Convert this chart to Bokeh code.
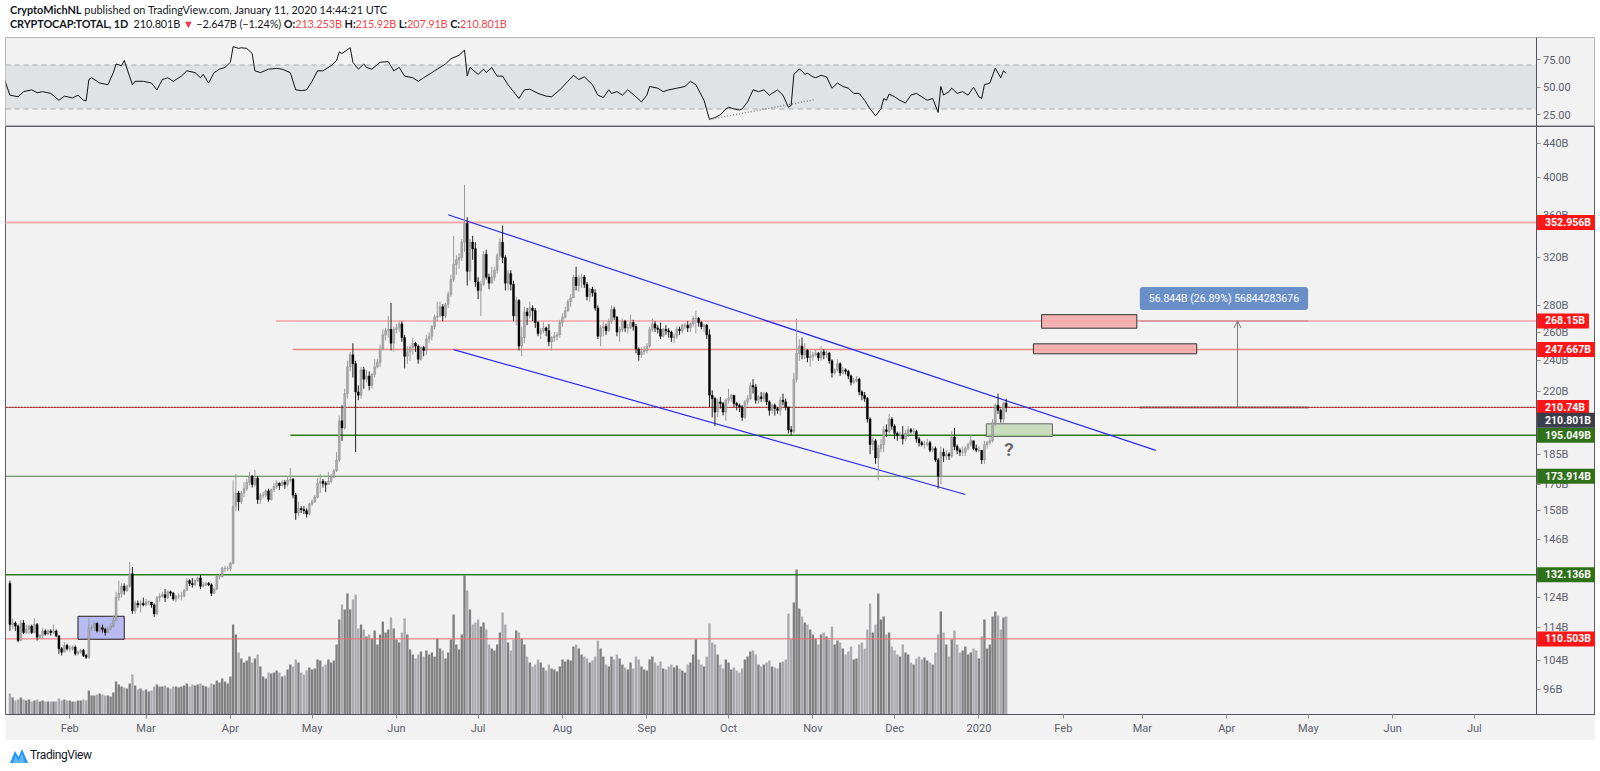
import pandas as pd
from bokeh.plotting import figure
from bokeh.layouts import column, row
from bokeh.models import (Range1d, FixedTicker, CustomJSTickFormatter, PrintfTickFormatter,
                          Label, BoxAnnotation, Arrow, OpenHead, Div, ColumnDataSource,
                          LinearScale, Spacer)
from bokeh.embed import file_html
from bokeh.resources import INLINE
from bokeh.core.properties import value

# ---------------------------------------------------------------- data
first_day = "2019-01-10"
first_open = 129.0

close = [
    115, 115.5, 114.5, 110, 115.5, 112.5, 113.5, 114.5, 112.5, 115, 111, 111.5, 113, 112, 113, 112.5, 113, 111.5, 107.5, 106.5, 108.5, 107.5,
    107.5, 108, 106, 106.5, 107, 105.5, 105, 114, 114, 115.5, 113, 114, 113.5, 112.5, 113.5, 114.5, 116.5, 124, 125.5, 128, 126.5, 128, 132.5, 119.5, 122, 121.5, 122, 121.5,
    122.5, 122.5, 121.5, 118.5, 124, 124.5, 125, 124, 126, 125.5, 123.5, 124.5, 124.5, 124.5, 126.5, 130, 129, 128.5, 130, 131, 128, 128.5, 129, 128.5, 125.5, 127, 131.5, 131.5, 134.5, 134.5, 134.5,
    136.5, 160, 166, 162, 166, 168, 171, 174, 170, 173, 163, 165, 165, 167, 163, 167.5, 169, 170.5, 169.5, 171, 170, 172, 172.5, 165, 157, 159, 158.5, 158, 156.5, 161,
    162, 164, 170.5, 171.5, 170.5, 170, 171.5, 173.5, 176.5, 182, 203, 199, 219, 236, 244, 238, 220, 218, 234, 228, 230, 224, 231, 236, 239, 248, 258, 261, 262, 252, 262,
    263, 266, 256, 243, 246, 249, 252, 250, 241, 249, 247, 255, 257, 264, 271, 272, 279, 272, 281, 289, 301, 314, 318, 320, 334, 352, 308, 334, 328, 299,
    292, 297, 323, 303, 298, 303, 309, 322, 334, 320, 298, 306, 297, 272, 284, 250, 256, 275, 272, 278, 276, 267, 259, 261, 263, 261, 253, 256, 257, 258, 267,
    271, 276, 283, 286, 303, 296, 302, 303, 297, 287, 293, 290, 278, 257, 263, 264, 261, 268, 277, 271, 260, 262, 268, 263, 263, 267, 264, 248, 244, 246, 247,
    250, 262, 266, 263, 262, 257, 262, 261, 260, 256, 257, 262, 261, 265, 265, 263, 266, 270, 270, 267, 264, 265, 258, 218, 216, 208, 214, 213, 208, 215,
    216, 218, 213, 212, 211, 205, 214, 216, 224, 223, 215, 217, 216, 219, 214, 209, 212, 210, 209, 215, 214, 211, 198, 197, 228, 245, 250, 244, 247, 242, 243,
    244, 245, 242, 246, 244, 245, 240, 232, 234, 238, 232, 234, 233, 230, 226, 227, 228, 220, 218, 216, 204, 190, 192, 183, 188, 190, 198, 197, 204, 200,
    196, 195, 195, 193, 196, 198, 197, 197, 193, 191, 190, 190, 191, 187, 188, 182, 174, 186, 184, 185, 184, 194, 189, 187, 186, 186, 188, 190, 192, 188, 187,
    187, 182, 190, 191, 192, 202, 212, 209, 204, 213.253, 210.801,
]

high = [
    130, 117, 116, 115, 116.5, 116.5, 115, 115, 115, 117, 115.5, 112, 114, 113.5, 113.5, 113.5, 115, 113.5, 111.5, 108, 109.5, 109,
    108.5, 108.5, 108.5, 107, 107.5, 107.5, 106, 117, 115, 116, 115.5, 115, 115, 114, 114.5, 115.5, 118, 126, 130, 129, 129, 128.5, 137, 135, 123, 123, 123, 124,
    123.5, 123, 122.5, 122, 124.5, 125.5, 126, 127, 126.5, 126.5, 126, 125, 125.5, 126, 127, 131, 130.5, 131, 130.5, 131.5, 132, 129.5, 129.5, 129.5, 129, 127.5, 132, 132.5, 135, 135.5, 135.5,
    137, 172, 175, 167, 167, 171, 172.5, 176, 174.5, 177, 174, 166, 166.5, 167.5, 168, 168, 170.5, 172, 171, 172, 172, 174, 178, 173, 166, 162, 160, 160, 159, 161.5,
    163, 165, 173, 175, 172.5, 171.5, 176, 175, 177.5, 186, 206, 212, 222, 240, 246, 252, 240, 224, 236, 236, 234, 233, 232, 241, 241, 251, 262, 263, 272, 282, 264,
    266, 268, 268, 258, 250, 251, 256, 253, 251, 250, 250, 258, 260, 265, 273, 283, 283, 281, 282, 291, 305, 340, 322, 324, 337, 392, 358, 337, 340, 334,
    303, 300, 326, 327, 306, 312, 312, 324, 338, 350, 322, 309, 309, 300, 287, 285, 264, 279, 278, 283, 280, 278, 268, 263, 267, 264, 266, 257, 260, 260, 269,
    274, 279, 285, 289, 305, 312, 305, 306, 305, 299, 294, 295, 293, 280, 265, 268, 266, 270, 280, 279, 272, 264, 270, 269, 266, 273, 269, 266, 249, 249, 250,
    252, 264, 270, 268, 265, 267, 263, 265, 263, 261, 259, 264, 264, 266, 267, 268, 267, 272, 276, 271, 268, 266, 266, 262, 221, 217, 216, 217, 214, 216,
    222, 219, 218, 214, 213, 212, 215, 218, 226, 228, 225, 218, 220, 220, 220, 215, 213, 213, 211, 217, 219, 216, 211, 200, 232, 270, 255, 256, 252, 248, 247,
    246, 248, 246, 250, 248, 247, 246, 241, 235, 241, 239, 236, 235, 234, 231, 229, 230, 229, 221, 220, 217, 205, 194, 193, 190, 193, 200, 201, 207, 205,
    201, 197, 197, 200, 198, 200, 199, 199, 198, 194, 192, 192, 193, 192, 189, 189, 183, 189, 188, 187, 186, 197, 199, 190, 188, 189, 189, 191, 195, 192, 190,
    189, 187, 192, 192, 195, 204, 213, 219, 210, 214, 215.92,
]

low = [
    113, 113.5, 113, 109.5, 110, 112, 112, 112, 112, 112.5, 110, 110.5, 110.5, 111.5, 111.5, 111.5, 112, 111, 106, 105.5, 106.5, 107,
    106.5, 107, 105.5, 105.5, 106, 105, 104.5, 104.5, 113, 113, 112.5, 112.5, 112.5, 111.5, 112.5, 113.5, 114, 116, 123, 124, 125, 126, 127.5, 118.5, 118.5, 120.5, 119, 121,
    121, 121.5, 120.5, 117.5, 118, 122.5, 124, 122.5, 123.5, 124.5, 123, 122.5, 123.5, 123, 124, 126.5, 128, 127.5, 128, 129.5, 127, 127.5, 128, 128, 124.5, 125.5, 126.5, 130.5, 131, 133, 133.5,
    133.5, 136, 158, 158, 161, 164, 167, 169.5, 168.5, 169, 161, 161, 163.5, 164, 162, 162.5, 166.5, 168, 167.5, 169, 168, 169, 171, 163.5, 154, 155.5, 157, 156.5, 155, 156,
    160, 161.5, 163.5, 166, 168.5, 166.5, 170, 170.5, 173, 176, 181, 192, 198, 216, 233, 229, 186, 215, 216, 222, 226, 221, 222, 229, 235, 236, 247, 254, 256, 247, 246,
    259, 260, 253, 235, 238, 240, 244, 246, 238, 240, 243, 244, 252, 254, 262, 268, 271, 268, 270, 278, 287, 299, 305, 310, 317, 325, 296, 300, 318, 295,
    285, 272, 296, 301, 293, 298, 300, 306, 318, 315, 292, 292, 292, 268, 265, 247, 243, 252, 265, 270, 268, 263, 257, 255, 259, 257, 250, 247, 253, 254, 256,
    264, 270, 275, 279, 286, 292, 291, 294, 294, 284, 283, 287, 276, 255, 250, 257, 258, 260, 266, 269, 257, 253, 260, 260, 259, 262, 261, 245, 240, 242, 244,
    245, 249, 260, 260, 259, 255, 256, 258, 256, 253, 252, 255, 258, 259, 262, 260, 260, 264, 259, 264, 262, 260, 255, 211, 205, 200, 205, 210, 206, 203,
    213, 214, 211, 209, 208, 203, 204, 212, 215, 219, 213, 213, 214, 214, 212, 206, 207, 206, 207, 206, 212, 209, 196, 195, 196, 226, 240, 241, 241, 239, 236,
    240, 243, 240, 240, 241, 242, 238, 229, 231, 233, 230, 231, 231, 228, 224, 225, 226, 218, 215, 214, 202, 185, 187, 180, 172, 186, 186, 194, 196, 198,
    193, 192, 193, 190, 192, 194, 196, 195, 191, 189, 189, 188, 189, 186, 186, 181, 168, 170, 181, 182, 182, 183, 187, 185, 184, 184, 184, 187, 189, 187, 186,
    186, 180, 180, 188, 190, 191, 200, 207, 202, 201, 207.91,
]

volume = [
    21, 17, 14, 15, 17, 15, 14, 15, 13, 14, 15, 13, 14, 13, 13, 13, 13, 13, 16, 14, 15, 14,
    14, 13, 13, 14, 14, 15, 14, 24, 19, 19, 20, 21, 20, 19, 19, 18, 22, 33, 30, 28, 27, 26, 31, 40, 29, 25, 26, 24,
    25, 23, 24, 28, 30, 28, 28, 29, 27, 26, 28, 28, 27, 28, 29, 31, 28, 30, 29, 30, 31, 29, 28, 27, 31, 30, 34, 32, 36, 33, 31,
    38, 90, 80, 62, 56, 52, 54, 58, 52, 56, 60, 48, 38, 36, 42, 41, 42, 44, 42, 38, 39, 45, 50, 48, 55, 52, 42, 40, 44, 47,
    45, 46, 55, 54, 48, 50, 55, 52, 54, 70, 95, 110, 105, 121, 105, 115, 120, 86, 90, 85, 78, 80, 76, 84, 70, 80, 93, 82, 85, 97, 86,
    75, 72, 82, 96, 80, 65, 60, 56, 60, 63, 58, 64, 60, 62, 58, 76, 66, 64, 56, 62, 75, 100, 70, 65, 80, 139, 124, 105, 90, 92,
    95, 88, 92, 85, 70, 66, 64, 70, 82, 102, 90, 72, 64, 75, 84, 82, 76, 70, 58, 52, 48, 50, 55, 52, 47, 44, 50, 46, 45, 43, 48,
    55, 53, 55, 54, 68, 70, 66, 60, 58, 56, 52, 54, 58, 74, 66, 58, 50, 48, 58, 55, 60, 56, 50, 47, 45, 52, 46, 58, 55, 48, 45,
    44, 55, 58, 52, 49, 53, 46, 45, 48, 50, 47, 49, 46, 44, 42, 50, 52, 60, 75, 55, 50, 48, 58, 91, 72, 70, 60, 50, 46, 55,
    52, 45, 47, 44, 42, 46, 55, 58, 63, 64, 60, 50, 48, 50, 52, 54, 48, 47, 46, 52, 53, 55, 101, 75, 112, 145, 106, 98, 92, 90, 85,
    80, 76, 70, 80, 82, 78, 75, 88, 70, 74, 72, 66, 60, 63, 68, 55, 56, 70, 72, 66, 85, 111, 82, 90, 121, 95, 98, 80, 82, 68,
    64, 60, 58, 70, 62, 60, 52, 50, 56, 58, 55, 57, 54, 52, 50, 62, 80, 103, 82, 70, 58, 75, 84, 70, 62, 64, 68, 60, 62, 66, 64,
    56, 78, 95, 66, 70, 98, 103, 99, 85, 97, 98,
]

# RSI(14): day offset from first_day, value
rsi_day = [-2, 0, 3, 5, 8, 10, 12, 15, 18, 20, 23, 25, 27, 28, 29, 30, 33, 36, 38, 39,
           41, 42, 45, 46, 49, 52, 54, 56, 58, 60, 63, 65, 68, 70, 71, 73, 75, 77, 79, 81,
           82, 84, 85, 87, 89, 90, 92, 95, 98, 100, 103, 105, 107, 109, 111, 113, 115, 118, 120, 121,
           122, 125, 126, 128, 130, 131, 133, 136, 139, 141, 143, 145, 148, 150, 152, 155, 158, 160, 162, 165,
           167, 168, 169, 172, 174, 175, 177, 179, 181, 183, 185, 187, 189, 191, 194, 197, 199, 202, 205, 207,
           209, 211, 214, 216, 218, 220, 221, 223, 225, 227, 230, 232, 234, 235, 238, 240, 242, 245, 248, 250,
           252, 255, 257, 259, 261, 263, 264, 266, 268, 269, 271, 273, 275, 277, 279, 280, 282, 284, 286, 287,
           288, 290, 291, 292, 293, 295, 296, 298, 300, 302, 304, 306, 308, 310, 312, 314, 316, 318, 320, 321,
           322, 323, 325, 327, 329, 331, 333, 335, 337, 339, 341, 342, 343, 345, 346, 348, 350, 352, 354, 356,
           357, 358, 360, 362, 364, 365, 366]
rsi_val = [56.8, 42.6, 41.1, 45.8, 47.4, 44.8, 45.8, 44.2, 37.9, 41.7, 40.1, 42.6, 38.0, 37.5, 56.8, 58.4, 53.6, 52.1, 63.1, 70.9,
           69.4, 74.1, 52.1, 55.2, 55.2, 53.6, 47.4, 56.8, 58.4, 55.2, 59.9, 64.7, 63.1, 58.4, 61.5, 53.6, 63.1, 66.2, 67.8, 72.5,
           86.7, 85.1, 85.7, 85.1, 80.4, 64.7, 63.1, 66.2, 66.9, 66.2, 63.1, 47.4, 46.7, 47.4, 55.2, 64.7, 64.7, 69.4, 74.1, 81.9,
           80.4, 85.7, 72.5, 66.2, 70.9, 67.8, 66.2, 72.5, 73.1, 64.7, 67.8, 59.9, 58.4, 55.2, 58.4, 63.1, 67.8, 70.9, 75.7, 78.8,
           83.5, 59.9, 67.8, 61.5, 66.2, 63.1, 67.8, 59.9, 59.9, 52.1, 45.8, 39.5, 47.4, 48.0, 44.2, 41.7, 41.1, 47.4, 55.2, 60.6,
           56.8, 59.3, 52.1, 42.6, 40.4, 47.4, 44.2, 45.8, 42.6, 47.4, 41.1, 36.4, 42.6, 50.5, 48.9, 45.8, 47.4, 48.9, 50.5, 55.2,
           52.1, 37.9, 20.6, 22.2, 24.7, 30.1, 31.6, 30.1, 29.1, 30.1, 36.4, 47.4, 45.8, 47.4, 42.6, 44.2, 47.4, 42.6, 31.6, 33.2,
           61.5, 66.2, 64.7, 61.5, 62.5, 59.3, 58.4, 60.6, 59.3, 48.9, 53.6, 50.5, 48.9, 44.2, 44.2, 37.9, 30.1, 23.8, 30.1, 39.5,
           37.9, 43.6, 41.1, 37.9, 35.4, 42.6, 44.2, 41.1, 37.9, 39.5, 26.9, 50.5, 42.6, 45.8, 48.9, 44.2, 45.8, 42.6, 49.9, 41.1,
           39.5, 52.1, 53.6, 67.2, 58.4, 64.7, 62.5]
rsi_trend_dates = ["2019-09-24", "2019-11-01 12:00"]
rsi_trend_vals = [20.5, 38.4]

# drawn horizontal levels
level_price = [352.956, 268.15, 247.667, 210.74, 195.049, 173.914, 132.136, 110.503]
level_start = ["2019-01-01", "2019-04-17 17:00", "2019-04-23 22:00", "2019-01-01",
               "2019-04-23", "2019-01-01", "2019-01-01", "2019-01-01"]
last_price = 210.801

# falling channel
chan_up_dates = ["2019-06-20", "2020-03-06"]
chan_up_price = [360.6, 186.9]
chan_lo_dates = ["2019-06-22", "2019-12-27"]
chan_lo_price = [247.6, 165.3]

# rectangles
zone_left = ["2020-01-24", "2020-01-21"]
zone_right = ["2020-02-28", "2020-03-21"]
zone_bottom = [262.8, 244.7]
zone_top = [272.9, 251.6]
purple_box = ["2019-02-04", "2019-02-21", 110.4, 117.7]
green_box = ["2020-01-03 17:00", "2020-01-28", 194.3, 201.3]

# price-range measurement
measure_dates = ["2020-02-29", "2020-05-01"]
measure_arrow_date = "2020-04-05"
measure_label_date = "2020-03-31"
measure_label_price = 285.5
measure_text = "56.844B (26.89%) 56844283676"
question_date = "2020-01-12"
question_price = 187.4
question_text = ["?"]

month_ticks = pd.date_range("2019-02-01", "2020-07-01", freq="MS")
price_ticks = [96, 104, 114, 124, 146, 158, 170, 185, 220, 240, 260, 280, 320, 360, 400, 440]

# ---------------------------------------------------------------- build
DAY = 86400000.0
W = 1590
FONT = "Roboto"
x_start = pd.Timestamp("2019-01-08 09:00")
x_stop = pd.Timestamp("2020-08-14 12:00")
axis_at = pd.Timestamp("2020-07-23 16:00")      # where the price scale begins


def ms(s):
    return pd.Timestamp(s).value / 1e6


dates = pd.date_range(first_day, periods=len(close), freq="D")
opens = [first_open] + close[:-1]
up = [c >= o for o, c in zip(opens, close)]
src = ColumnDataSource(dict(
    x=dates,
    top=[max(o, c) for o, c in zip(opens, close)],
    bot=[min(o, c) for o, c in zip(opens, close)],
    hi=[max(h, o, c) for h, o, c in zip(high, opens, close)],
    lo=[min(l, o, c) for l, o, c in zip(low, opens, close)],
    vol=volume,
    body=["#ababab" if u else "#000000" for u in up],
    edge=["#8e8e8e" if u else "#000000" for u in up],
    wick=["#9a9a9a" if u else "#222222" for u in up],
    vcol=["#7f7f7f" if u else "#ababaf" for u in up],
))

xr = Range1d(x_start, x_stop)


def style_axis(ax):
    ax.axis_line_color = "#50535e"
    ax.major_tick_line_color = "#8a8a8a"
    ax.major_tick_in = 0
    ax.major_tick_out = 4
    ax.minor_tick_line_color = None
    ax.major_label_text_font = FONT
    ax.major_label_text_font_size = "11px"
    ax.major_label_text_color = "#5d606b"


# ---------- header
hdr = Div(width=W, height=27, text=(
    "<div style=\"font-family:Lato,'Open Sans',sans-serif;font-size:10.9px;line-height:14px;color:#131722;"
    "margin-top:-2px;white-space:nowrap\">"
    "<div><b>CryptoMichNL</b> published on TradingView.com, January 11, 2020 14:44:21 UTC</div>"
    "<div style='letter-spacing:-0.1px'><b>CRYPTOCAP:TOTAL, 1D</b>&nbsp; 210.801B <span style='color:#f23645'>&#9660;</span> "
    "&minus;2.647B (&minus;1.24%) <b>O:</b><span style='color:#f0474a'>213.253B</span> "
    "<b>H:</b><span style='color:#f0474a'>215.92B</span> <b>L:</b><span style='color:#f0474a'>207.91B</span> "
    "<b>C:</b><span style='color:#f0474a'>210.801B</span></div></div>"))

# ---------- RSI pane
rsi = figure(width=W, height=89, x_range=xr, y_range=Range1d(14.1, 95.0), x_axis_type="datetime",
             x_axis_location=None, y_axis_location="right", output_backend="svg",
             toolbar_location=None, min_border_left=0, min_border_right=0, min_border_top=0,
             min_border_bottom=0, background_fill_color="#f2f2f2", border_fill_color="#f2f2f2",
             outline_line_color="#b3b3b3")
rsi.grid.visible = False
rsi.add_layout(BoxAnnotation(bottom=30, top=70, right=ms(axis_at), fill_color="#e1e2e4",
                             fill_alpha=1.0, line_color=None, level="underlay"))
for lv in (70, 30):
    rsi.segment(x0=[x_start], x1=[axis_at], y0=[lv], y1=[lv], line_color="#ababab",
                line_dash="5 4", line_width=1)
rsi_dates = [pd.Timestamp(first_day) + pd.Timedelta(days=d) for d in rsi_day]
rsi.line(rsi_dates, rsi_val, color="#111111", line_width=1)
rsi.line([pd.Timestamp(d) for d in rsi_trend_dates], rsi_trend_vals, color="#808080",
         line_width=1.5, line_dash="1 2")
ya = rsi.yaxis[0]
ya.fixed_location = ms(axis_at)
ya.ticker = FixedTicker(ticks=[25, 50, 75])
ya.formatter = PrintfTickFormatter(format="%.2f")
style_axis(ya)
ya.major_label_standoff = 3

# ---------- price pane
p = figure(width=W, height=614, x_range=xr, y_range=Range1d(89.5, 461.2), y_axis_type="log",
           x_axis_type="datetime", y_axis_location="right", output_backend="svg",
           toolbar_location=None, min_border_left=0, min_border_right=0, min_border_top=0,
           min_border_bottom=26, background_fill_color="#f2f2f2", border_fill_color="#f2f2f2",
           outline_line_color="#5a5d66")
p.grid.visible = False
p.extra_y_ranges = {"vol": Range1d(0, 588)}
p.extra_y_scales = {"vol": LinearScale()}

p.vbar(x="x", top="vol", bottom=0, width=0.86 * DAY, fill_color="vcol", line_color=None,
       y_range_name="vol", source=src)

# measurement tool lines
p.segment(x0=[pd.Timestamp(measure_dates[0])] * 2, x1=[pd.Timestamp(measure_dates[1])] * 2,
          y0=[level_price[3], level_price[1]], y1=[level_price[3], level_price[1]],
          line_color="#8c8c8c", line_width=2)

lvl_color = ["#f5abab", "#f5a3a3", "#f28585", "#e53935", "#2e7d12", "#4e7f3e", "#2e7d12", "#f06a6a"]
lvl_width = [2, 1.5, 1.5, 1, 1.5, 1, 1.5, 1]
for pr, st, c, w in zip(level_price, level_start, lvl_color, lvl_width):
    p.segment(x0=[pd.Timestamp(st)], x1=[axis_at], y0=[pr], y1=[pr], line_color=c, line_width=w)
p.segment(x0=[pd.Timestamp("2019-01-01")], x1=[axis_at], y0=[last_price], y1=[last_price],
          line_color="#2a2e39", line_width=1, line_dash="1 2")

p.line([pd.Timestamp(d) for d in chan_up_dates], chan_up_price, color="#2b2bf0", line_width=1.2)
p.line([pd.Timestamp(d) for d in chan_lo_dates], chan_lo_price, color="#2b2bf0", line_width=1.2)

p.quad(left=[pd.Timestamp(d) for d in zone_left], right=[pd.Timestamp(d) for d in zone_right],
       bottom=zone_bottom, top=zone_top, fill_color="#f5a8a8", fill_alpha=0.85,
       line_color="#333333", line_width=1)
p.quad(left=[pd.Timestamp(purple_box[0])], right=[pd.Timestamp(purple_box[1])],
       bottom=[purple_box[2]], top=[purple_box[3]], fill_color="#b4b4f2", fill_alpha=0.9,
       line_color="#222222", line_width=1)
p.quad(left=[pd.Timestamp(green_box[0])], right=[pd.Timestamp(green_box[1])],
       bottom=[green_box[2]], top=[green_box[3]], fill_color="#c2d8b4", fill_alpha=0.85,
       line_color="#666666", line_width=1)

p.segment(x0="x", x1="x", y0="lo", y1="hi", line_color="wick", line_width=1, source=src)
p.vbar(x="x", top="top", bottom="bot", width=0.7 * DAY, fill_color="body", line_color="edge",
       line_width=0.5, source=src)

p.text(x=[pd.Timestamp(question_date)], y=[question_price], text=question_text,
       text_font=value(FONT), text_font_style="bold", text_font_size="19px",
       text_color="#6a6a6a", text_align="center", text_baseline="middle")

p.add_layout(Arrow(end=OpenHead(size=7, line_color="#7a7a7a", line_width=1),
                   x_start=ms(measure_arrow_date), y_start=level_price[3],
                   x_end=ms(measure_arrow_date), y_end=level_price[1],
                   line_color="#7a7a7a", line_width=1))
p.add_layout(Label(x=ms(measure_label_date), y=measure_label_price, text=measure_text,
                   text_color="white", text_font=FONT, text_font_size="10.5px",
                   text_align="center", text_baseline="middle",
                   background_fill_color="#6a8fc8", background_fill_alpha=1.0,
                   padding=dict(left=9, right=9, top=5, bottom=5), border_radius=3))

# axes
xa = p.xaxis[0]
xa.ticker = FixedTicker(ticks=[t.value / 1e6 for t in month_ticks])
xa.formatter = CustomJSTickFormatter(code="""
const d = new Date(tick);
const m = d.getUTCMonth();
const names = ["Jan","Feb","Mar","Apr","May","Jun","Jul","Aug","Sep","Oct","Nov","Dec"];
return m === 0 ? String(d.getUTCFullYear()) : names[m];
""")
style_axis(xa)
xa.major_label_standoff = 3

pa = p.yaxis[0]
pa.fixed_location = ms(axis_at)
pa.ticker = FixedTicker(ticks=price_ticks)
pa.formatter = PrintfTickFormatter(format="%dB")
style_axis(pa)
pa.major_label_standoff = 3

tag_bg = ["#ff1515", "#ff1515", "#ff1515", "#ff1515", "#2f7119", "#2f7119", "#2f7119", "#ff1515"]
tag_pad = dict(left=8, right=4, top=1, bottom=1)
for pr, bg in zip(level_price, tag_bg):
    p.add_layout(Label(x=ms(axis_at), y=pr, text=f"{pr:g}B", x_offset=1,
                       text_color="white", text_font=FONT, text_font_size="10.5px",
                       text_font_style="bold", text_align="left", text_baseline="middle",
                       background_fill_color=bg, background_fill_alpha=1.0, padding=tag_pad))
p.add_layout(Label(x=ms(axis_at), y=last_price, y_offset=-13, text=f"{last_price:g}B",
                   x_offset=1, text_color="white", text_font=FONT, text_font_size="10.5px",
                   text_font_style="bold", text_align="left", text_baseline="middle",
                   background_fill_color="#3a3e4a", background_fill_alpha=1.0, padding=tag_pad))

# ---------- footer
ftr = Div(width=W, height=24, text=(
    "<div style='display:flex;align-items:center;margin-top:2px;"
    "font-family:Roboto,sans-serif;font-size:12px;color:#131722;letter-spacing:-0.4px'>"
    "<svg width='18' height='14' viewBox='0 0 18 14'><path d='M0 14 L5 2 L8.5 8 L12 0 L18 14 Z' "
    "fill='#2196f3'/><path d='M3 14 L5.5 7 L8.5 12 L12 4.5 L15 14 Z' fill='#64b5f6'/></svg>"
    "<span style='margin-left:2px'>TradingView</span></div>"))

layout = row(Spacer(width=5, height=10), column(hdr, rsi, p, ftr, spacing=0), spacing=0)
open("out.html", "w").write(file_html(layout, INLINE))
